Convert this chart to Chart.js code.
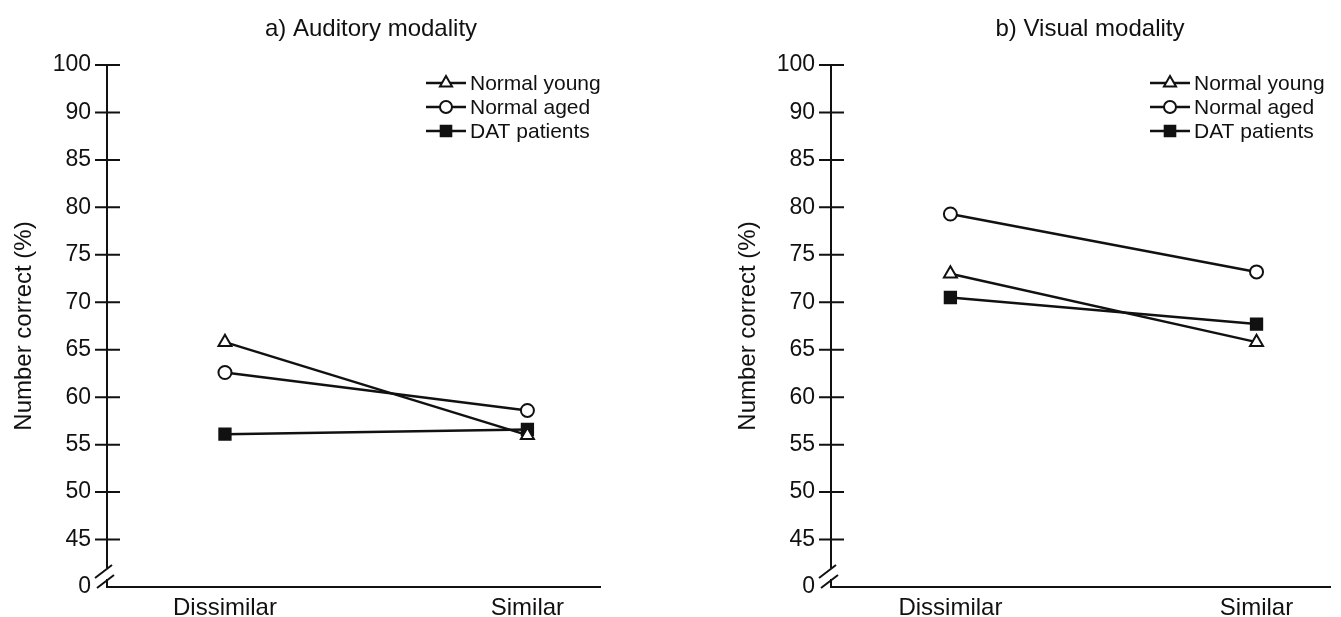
<!DOCTYPE html>
<html>
<head>
<meta charset="utf-8">
<script src="https://cdn.jsdelivr.net/npm/chart.js@4/dist/chart.umd.min.js"></script>
<style>
  html, body { margin: 0; padding: 0; background: #fff; }
  body { width: 1341px; height: 617px; position: relative; overflow: hidden; }
  .panel { position: absolute; top: 0; height: 617px; }
  #panelA { left: 0; width: 660px; }
  #panelB { left: 724px; width: 617px; }
</style>
</head>
<body>
<div class="panel" id="panelA"><canvas id="chartA" width="660" height="617"></canvas></div>
<div class="panel" id="panelB"><canvas id="chartB" width="617" height="617"></canvas></div>
<script>
// data
var categories = ["Dissimilar", "Similar"];
var seriesNames = ["Normal young", "Normal aged", "DAT patients"];

var auditoryYoung = [65.8, 56.0];
var auditoryAged  = [62.6, 58.6];
var auditoryDAT   = [56.1, 56.6];

var visualYoung = [73.0, 65.8];
var visualAged  = [79.3, 73.2];
var visualDAT   = [70.5, 67.7];

// broken y axis: slot 40 is shown as "0", slot 95 as "100"
var yTickSlots  = [40, 45, 50, 55, 60, 65, 70, 75, 80, 85, 90, 95];
var yTickLabels = ["0", "45", "50", "55", "60", "65", "70", "75", "80", "85", "90", "100"];

var FONT = '"Liberation Sans", Arial, Helvetica, sans-serif';
Chart.defaults.font.family = FONT;
Chart.defaults.color = "#111";

function pts(arr) {
    return arr.map(function (v, i) { return { x: i, y: v }; });
}

var styles = [
    { pointStyle: "triangle", radius: 7.5, fill: "#fff" },
    { pointStyle: "circle", radius: 6.5, fill: "#fff" },
    { pointStyle: "rect", radius: 8, fill: "#111" }
];

var decor = {
    id: "decor",
    afterDraw: function (chart, args, opts) {
        var ctx = chart.ctx, ca = chart.chartArea, ys = chart.scales.y;
        var x0 = ca.left, yb = ca.bottom;
        ctx.save();
        ctx.strokeStyle = "#111";
        ctx.lineWidth = 2;
        ctx.lineCap = "butt";
        // vertical axis with break
        ctx.beginPath();
        ctx.moveTo(x0, ys.getPixelForValue(95));
        ctx.lineTo(x0, yb - 19);
        ctx.moveTo(x0 - 12, yb - 9);
        ctx.lineTo(x0 + 5, yb - 22);
        ctx.moveTo(x0 - 10, yb + 1);
        ctx.lineTo(x0 + 7, yb - 12);
        ctx.moveTo(x0, yb - 8);
        ctx.lineTo(x0, yb);
        ctx.stroke();
        // ticks crossing the axis
        ctx.beginPath();
        yTickSlots.forEach(function (s) {
            if (s === 40) return;
            var y = ys.getPixelForValue(s);
            ctx.moveTo(x0 - 12, y);
            ctx.lineTo(x0 + 13, y);
        });
        ctx.stroke();
        // panel title
        ctx.fillStyle = "#111";
        ctx.font = "24px " + FONT;
        ctx.textAlign = "center";
        ctx.textBaseline = "middle";
        ctx.fillText(opts.title, opts.titleX, 29);
        // legend
        ctx.font = "21px " + FONT;
        ctx.textAlign = "left";
        chart.data.datasets.forEach(function (ds, i) {
            var y = 83 + i * 24;
            var cx = 446;
            ctx.strokeStyle = "#111";
            ctx.lineWidth = 2.5;
            ctx.beginPath();
            ctx.moveTo(cx - 20, y);
            ctx.lineTo(cx + 20, y);
            ctx.stroke();
            ctx.fillStyle = styles[i].fill;
            ctx.lineWidth = 2;
            Chart.helpers.drawPoint(ctx, {
                pointStyle: styles[i].pointStyle,
                radius: styles[i].radius - 0.5,
                borderWidth: 2,
                rotation: 0
            }, cx, y);
            ctx.fillStyle = "#111";
            ctx.fillText(ds.label, cx + 24, y + 1);
        });
        ctx.restore();
    }
};

function makeChart(id, young, aged, dat, title, titleX, rightPad) {
    var sets = [young, aged, dat];
    return new Chart(document.getElementById(id), {
        type: "line",
        data: {
            datasets: sets.map(function (arr, i) {
                return {
                    label: seriesNames[i],
                    data: pts(arr),
                    borderColor: "#111",
                    borderWidth: 2.5,
                    pointStyle: styles[i].pointStyle,
                    pointRadius: styles[i].radius,
                    pointBackgroundColor: styles[i].fill,
                    pointBorderColor: "#111",
                    pointBorderWidth: 2,
                    tension: 0
                };
            })
        },
        options: {
            responsive: false,
            animation: false,
            events: [],
            layout: { padding: { top: 65, left: 0, right: rightPad, bottom: 0 } },
            scales: {
                x: {
                    type: "linear",
                    min: -0.39,
                    max: 1.24,
                    afterBuildTicks: function (s) {
                        s.ticks = categories.map(function (c, i) { return { value: i }; });
                    },
                    afterFit: function (s) { s.height = 30; },
                    grid: { display: false, drawTicks: false },
                    border: { display: true, color: "#111", width: 2 },
                    ticks: {
                        padding: 7,
                        font: { size: 24 },
                        color: "#111",
                        maxRotation: 0,
                        callback: function (v) { return categories[v]; }
                    }
                },
                y: {
                    type: "linear",
                    min: 40,
                    max: 95,
                    afterBuildTicks: function (s) {
                        s.ticks = yTickSlots.map(function (v) { return { value: v }; });
                    },
                    afterFit: function (s) { s.width = 107; },
                    grid: { display: false, drawTicks: false },
                    border: { display: false },
                    ticks: {
                        padding: 16,
                        font: { size: 23 },
                        color: "#111",
                        callback: function (v) { return yTickLabels[yTickSlots.indexOf(v)]; }
                    },
                    title: {
                        display: true,
                        text: "Number correct (%)",
                        font: { size: 24 },
                        color: "#111",
                        padding: { top: 10, bottom: 0 }
                    }
                }
            },
            plugins: {
                legend: { display: false },
                tooltip: { enabled: false },
                decor: { title: title, titleX: titleX }
            }
        },
        plugins: [decor]
    });
}

makeChart("chartA", auditoryYoung, auditoryAged, auditoryDAT, "a) Auditory modality", 371, 60);
makeChart("chartB", visualYoung, visualAged, visualDAT, "b) Visual modality", 366, 11);
</script>
</body>
</html>
